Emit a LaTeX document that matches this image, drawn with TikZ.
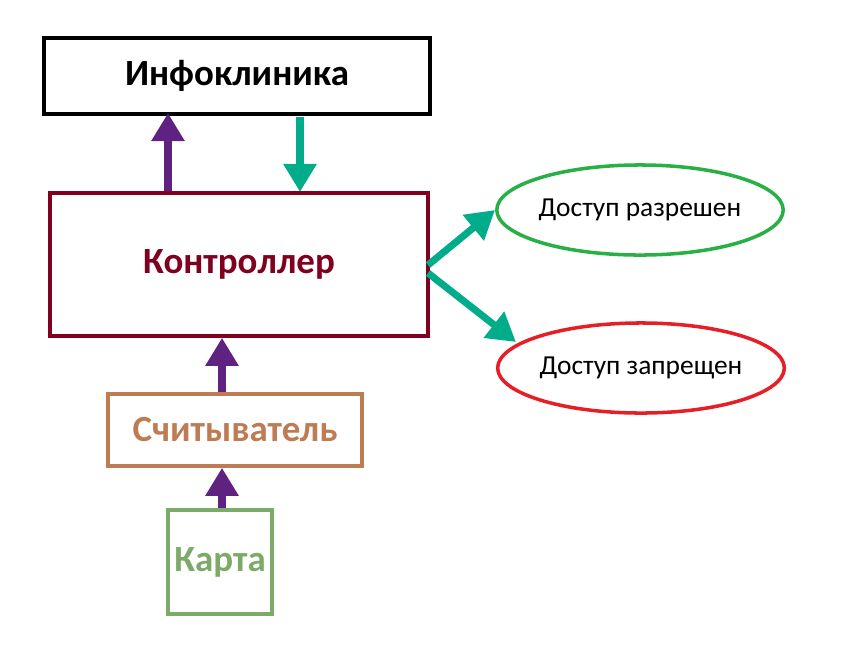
\documentclass[tikz,border=0pt]{standalone}
\usepackage{fontspec}
\setmainfont{Carlito}
\usetikzlibrary{arrows.meta,shapes.geometric,calc}
\definecolor{ctrlred}{RGB}{128,0,32}
\definecolor{readbrown}{RGB}{190,124,84}
\definecolor{cardgreen}{RGB}{124,170,104}
\definecolor{okgreen}{RGB}{40,176,70}
\definecolor{nored}{RGB}{230,30,40}
\definecolor{arrpurple}{RGB}{96,34,128}
\definecolor{arrteal}{RGB}{0,172,138}
\tikzset{
  box/.style={draw, line width=1pt, inner sep=0pt, font=\bfseries\fontsize{10.5}{12}\selectfont},
  oval/.style={ellipse, draw, line width=1pt, inner sep=0pt, minimum width=2.66cm, minimum height=0.9cm, font=\fontsize{7.8}{9}\selectfont},
  up/.style={arrpurple, line width=2pt, -{Triangle[length=8pt,width=9pt]}},
  dn/.style={arrteal, line width=2pt, -{Triangle[length=8pt,width=9pt]}}
}
\begin{document}
\begin{tikzpicture}[x=0.01cm,y=-0.01cm]
  \useasboundingbox (0,0) rectangle (854,666);
  % boxes
  \node[box, minimum width=3.86cm, minimum height=0.76cm] (info) at (237,76) {Инфоклиника};
  \node[box, ctrlred, minimum width=3.78cm, minimum height=1.43cm] (ctrl) at (239,264.5) {Контроллер};
  \node[box, readbrown, minimum width=2.54cm, minimum height=0.72cm] (reader) at (235,430) {Считыватель};
  \node[box, cardgreen, minimum width=1.04cm, minimum height=1.04cm] (card) at (220,562) {Карта};
  % access results
  \node[oval, okgreen, text=black] (allow) at (640,210) {Доступ разрешен};
  \node[oval, nored, text=black] (deny) at (641,368) {Доступ запрещен};
  % arrows
  \coordinate (c1) at (168,191);
  \coordinate (i1) at (168,113);
  \coordinate (i2) at (300,117);
  \coordinate (c2) at (300,192);
  \draw[up] (c1) -- (i1);
  \draw[dn] (i2) -- (c2);
  \draw[up] (reader.north -| 222,0) -- (ctrl.south -| 222,0);
  \draw[up] (card.north -| 222,0) -- (reader.south -| 222,0);
  \coordinate (o1) at (428,265);
  \coordinate (o2) at (428,273);
  \draw[dn] (o1) -- (allow.west);
  \draw[dn] (o2) -- (516,342);
\end{tikzpicture}
\end{document}
